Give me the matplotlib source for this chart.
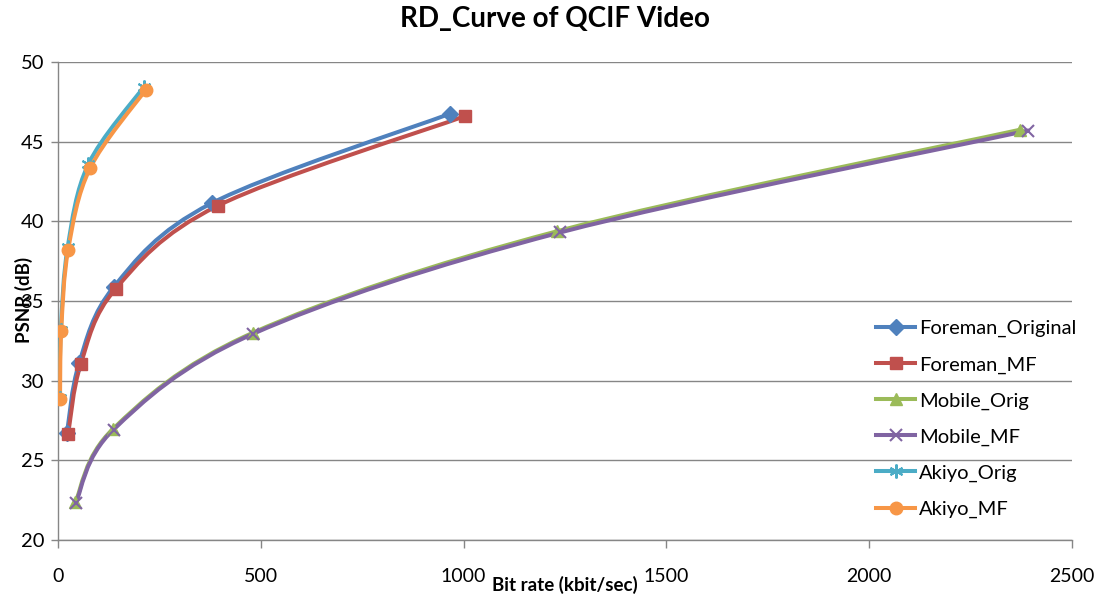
import matplotlib
matplotlib.use("Agg")
import matplotlib.pyplot as plt
from matplotlib.path import Path
from matplotlib.patches import PathPatch
import numpy as np

plt.rcParams['font.family'] = ['Lato', 'DejaVu Sans']

# Data (bit rate kbit/s, PSNR dB)
foreman_orig_x = [22, 52, 138, 379, 966]
foreman_orig_y = [26.7, 31.1, 35.9, 41.14, 46.75]
foreman_mf_x = [25, 56, 142, 395, 1003]
foreman_mf_y = [26.65, 31.03, 35.76, 40.99, 46.6]
mobile_orig_x = [43, 136, 480, 1231, 2372]
mobile_orig_y = [22.4, 26.98, 33.0, 39.38, 45.75]
mobile_mf_x = [44, 137, 482, 1238, 2392]
mobile_mf_y = [22.35, 26.93, 32.95, 39.3, 45.7]
akiyo_orig_x = [4, 7, 24, 75, 212]
akiyo_orig_y = [28.9, 33.2, 38.4, 43.6, 48.45]
akiyo_mf_x = [5, 8, 25, 79, 216]
akiyo_mf_y = [28.85, 33.12, 38.2, 43.33, 48.25]

series_names = ["Foreman_Original", "Foreman_MF", "Mobile_Orig", "Mobile_MF", "Akiyo_Orig", "Akiyo_MF"]
x_ticks = [0, 500, 1000, 1500, 2000, 2500]
y_ticks = [20, 25, 30, 35, 40, 45, 50]

series = [
    (foreman_orig_x, foreman_orig_y, "#4F81BD", "D", 8),
    (foreman_mf_x, foreman_mf_y, "#C0504D", "s", 9),
    (mobile_orig_x, mobile_orig_y, "#9BBB59", "^", 9),
    (mobile_mf_x, mobile_mf_y, "#8064A2", "x", 9),
    (akiyo_orig_x, akiyo_orig_y, "#4BACC6", (6, 2, 0), 10),
    (akiyo_mf_x, akiyo_mf_y, "#F79646", "o", 9),
]


def smooth_path(xs, ys):
    pts = np.column_stack([xs, ys]).astype(float)
    n = len(pts)
    verts = [pts[0]]
    codes = [Path.MOVETO]
    for i in range(n - 1):
        p0 = pts[i - 1] if i > 0 else pts[i]
        p1 = pts[i]
        p2 = pts[i + 1]
        p3 = pts[i + 2] if i + 2 < n else pts[i + 1]
        c1 = p1 + (p2 - p0) / 6.0
        c2 = p2 - (p3 - p1) / 6.0
        verts += [c1, c2, p2]
        codes += [Path.CURVE4] * 3
    return Path(verts, codes)


fig = plt.figure(figsize=(11.02, 6.01), dpi=100)
ax = fig.add_axes([58 / 1102, 61 / 601, 1014 / 1102, 478 / 601])

LW = 2.9
handles = []
for (xs, ys, col, mk, ms), name in zip(series, series_names):
    patch = PathPatch(smooth_path(xs, ys), facecolor='none', edgecolor=col,
                      lw=LW, capstyle='round', joinstyle='round', zorder=3)
    ax.add_patch(patch)
    mew = 1.5 if mk in ("x", (6, 2, 0)) else 1
    ax.plot(xs, ys, linestyle='none', marker=mk, markersize=ms, color=col,
            markeredgecolor=col, markeredgewidth=mew, zorder=4)
    h, = ax.plot([], [], color=col, lw=LW, marker=mk, markersize=ms,
                 markeredgewidth=mew, label=name)
    handles.append(h)

ax.set_xlim(0, 2500)
ax.set_ylim(20, 50)
ax.set_xticks(x_ticks)
ax.set_yticks(y_ticks)
ax.tick_params(axis='x', direction='out', length=6, width=1, color='#868686',
               pad=14, labelsize=14)
ax.tick_params(axis='y', direction='out', length=5, width=1, color='#868686',
               pad=5, labelsize=14.5)
ax.yaxis.grid(True, color='#868686', lw=1)
ax.set_axisbelow(True)
for s in ['top', 'right']:
    ax.spines[s].set_visible(False)
for s in ['left', 'bottom']:
    ax.spines[s].set_color('#868686')
    ax.spines[s].set_linewidth(1)

fig.text(565 / 1102, 1 - 585 / 601, "Bit rate (kbit/sec)", ha='center', va='center',
         fontsize=13.5, fontweight='bold')
fig.text(24 / 1102, 1 - 300 / 601, "PSNR (dB)", ha='center', va='center',
         rotation=90, fontsize=13.5, fontweight='bold')
fig.text(555 / 1102, 1 - 19 / 601, "RD_Curve of QCIF Video", ha='center', va='center',
         fontsize=20, fontweight='bold')

leg = ax.legend(handles=handles, loc='upper left', bbox_to_anchor=(810 / 1014, 1 - 250 / 478),
                frameon=False, fontsize=14.5, handlelength=1.95, handletextpad=0.2,
                labelspacing=0.93, borderaxespad=0)

fig.savefig("out.png", dpi=100)
